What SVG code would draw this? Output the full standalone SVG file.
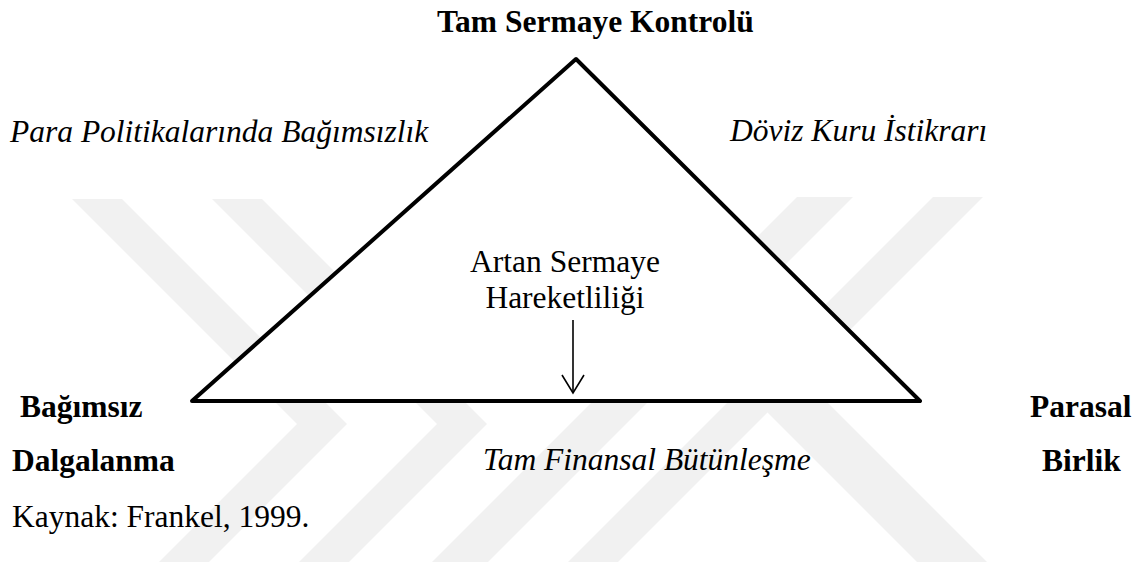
<svg xmlns="http://www.w3.org/2000/svg" width="1139" height="568" viewBox="0 0 1139 568">
<style>
.t{font-family:"Liberation Serif",serif;font-size:31.5px;fill:#000}
.b{font-weight:bold}
.i{font-style:italic}
.wm{fill:#f1f1f1;stroke:none}
.edge{fill:none;stroke:#000;stroke-width:1.6}
</style>
<defs>
<marker id="open" markerWidth="22" markerHeight="26" refX="19" refY="12" orient="auto" markerUnits="userSpaceOnUse" viewBox="0 0 22 26">
<path d="M1,1 L19,12 L1,23" fill="none" stroke="#000" stroke-width="1.6"/>
</marker>
</defs>
<rect width="1139" height="568" fill="#fff"/>
<g id="watermark">
<polygon class="wm" points="72,199 122,199 347,424 209,562 159,562 297,424"/>
<polygon class="wm" points="212,199 262,199 487,424 349,562 299,562 437,424"/>
<polygon class="wm" points="797,197 853,197 488,562 432,562"/>
<polygon class="wm" points="933,197 983,197 618,562 568,562"/>
<polygon class="wm" points="655,300 725,300 987,562 917,562"/>
</g>
<g id="triangle">
<polygon points="576,59 920,401 192,401" fill="#fff" stroke="#000" stroke-width="4" stroke-linejoin="round"/>
</g>
<g id="node-top"><text class="t b" x="437" y="32">Tam Sermaye Kontrolü</text></g>
<g id="label-left"><text class="t i" x="10" y="142">Para Politikalarında Bağımsızlık</text></g>
<g id="label-right"><text class="t i" x="730" y="141">Döviz Kuru İstikrarı</text></g>
<g id="node-center">
<text class="t" x="565" y="272" text-anchor="middle">Artan Sermaye</text>
<text class="t" x="565" y="308" text-anchor="middle">Hareketliliği</text>
</g>
<g id="node-left">
<text class="t b" x="20" y="417">Bağımsız</text>
<text class="t b" x="12" y="471">Dalgalanma</text>
</g>
<g id="node-right">
<text class="t b" x="1030" y="417">Parasal</text>
<text class="t b" x="1042" y="471">Birlik</text>
</g>
<g id="label-bottom"><text class="t i" x="483" y="470">Tam Finansal Bütünleşme</text></g>
<g id="source"><text class="t" x="12" y="527">Kaynak: Frankel, 1999.</text></g>
<g id="connectors">
<line class="edge" x1="573" y1="320" x2="573" y2="393" marker-end="url(#open)"/>
</g>
</svg>
